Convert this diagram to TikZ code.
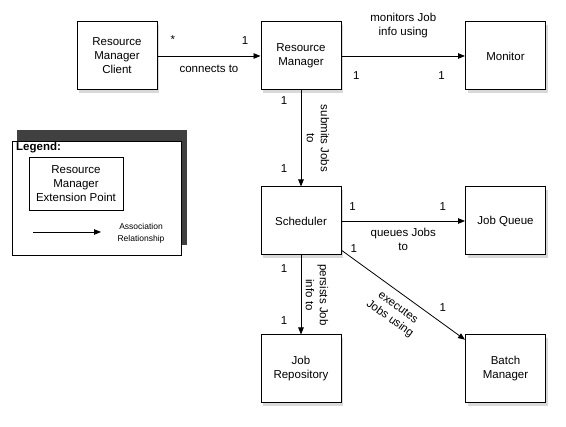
\documentclass[tikz,border=0pt]{standalone}
\usepackage{fontspec}
\setmainfont{Liberation Sans}
\usetikzlibrary{arrows.meta,shadows}

\begin{document}
\begin{tikzpicture}[x=1pt,y=-1pt,font=\fontsize{11.5}{14}\selectfont,
    >={Triangle[length=7pt,width=5.5pt]}]

  \useasboundingbox (0,0) rectangle (566,427);

  % legend
  \fill[black!75] (17,130) rectangle (187,245);
  \draw[fill=white,line width=.8pt] (12,141) rectangle (181,255);
  \node[anchor=north west,inner sep=0pt,font=\fontsize{11.5}{14}\selectfont\bfseries] (legend) at (16,142) {Legend:};
  \node[draw,line width=.8pt,minimum width=94pt,minimum height=53pt,align=center] (ext) at (76,183.5) {Resource\\Manager\\Extension Point};
  \coordinate (la) at (33,232);
  \coordinate (lb) at (101,232);
  \draw[->,line width=.8pt] (la) -- (lb);
  \node[align=center,font=\fontsize{8.5}{12}\selectfont] (assoc) at (141,233) {Association\\Relationship};

  \begin{scope}[every node/.style={draw,line width=1pt,fill=white,minimum width=80pt,
      minimum height=68pt,align=center,
      drop shadow={shadow xshift=2pt,shadow yshift=-3pt,opacity=.3}}]
    \node (client)  at (117,56)    {Resource\\Manager\\Client};
    \node (rm)      at (301,56)    {Resource\\Manager};
    \node (monitor) at (505.5,56)  {Monitor};
    \node (sched)   at (301,221)   {Scheduler};
    \node (queue)   at (505.5,221) {Job Queue};
    \node (repo)    at (301,369)   {Job\\Repository};
    \node (batch)   at (505.5,369) {Batch\\Manager};
  \end{scope}

  \begin{scope}[every node/.style={align=center}]

    \begin{scope}[every edge/.style={draw,->,line width=.8pt}]
      \path (client) edge node[pos=.15,yshift=16pt] {*}
                          node[pos=.85,yshift=15pt] {1}
                          node[yshift=-13pt] {connects to} (rm);
      \path (rm)     edge node[pos=.12,yshift=-20pt] {1}
                          node[pos=.81,yshift=-20pt] {1}
                          node[yshift=30pt] {monitors Job\\info using} (monitor);
      \path (rm)     edge node[pos=.1,xshift=-17pt] {1}
                          node[pos=.81,xshift=-17pt] {1}
                          node[sloped,above=2pt] {submits Jobs\\to} (sched);
      \path (sched)  edge node[pos=.09,yshift=14pt] {1}
                          node[pos=.82,yshift=14pt] {1}
                          node[yshift=-18pt] {queues Jobs\\to} (queue);
      \path (sched)  edge node[pos=.16,xshift=-17pt] {1}
                          node[pos=.82,xshift=-17pt] {1}
                          node[sloped,above=1pt] {persists Job\\info to} (repo);
      \path (sched)  edge node[pos=.1,yshift=11pt] {1}
                          node[pos=.82,yshift=16pt] {1}
                          node[pos=.52,sloped,below=5pt] {executes\\Jobs using} (batch);
    \end{scope}
  \end{scope}

\end{tikzpicture}
\end{document}
